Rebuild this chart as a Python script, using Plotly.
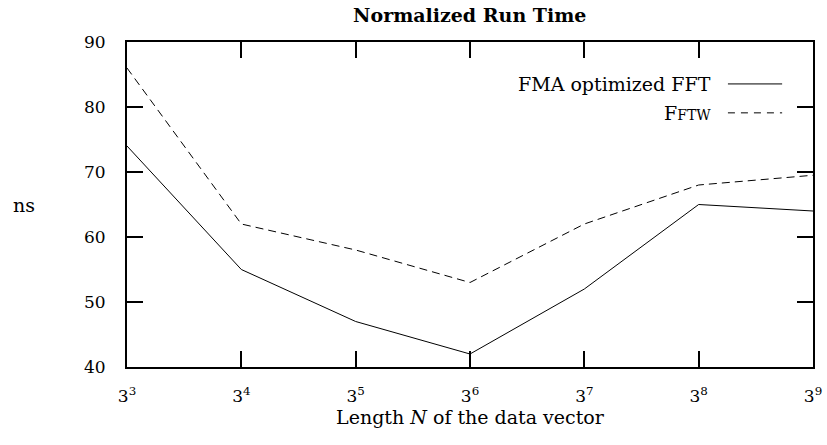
import plotly.graph_objects as go

categories = ["3<sup>3</sup>", "3<sup>4</sup>", "3<sup>5</sup>", "3<sup>6</sup>", "3<sup>7</sup>", "3<sup>8</sup>", "3<sup>9</sup>"]
exponents = [3, 4, 5, 6, 7, 8, 9]
fma_fft = [74, 55, 47, 42, 52, 65, 64]
fftw = [86, 62, 58, 53, 62, 68, 69.5]
y_ticks = [40, 50, 60, 70, 80, 90]

FONT = "DejaVu Serif"
FS_TICK = 17
FS = 19

fig = go.Figure()
fig.add_trace(go.Scatter(x=exponents, y=fma_fft, mode="lines", name="FMA optimized FFT",
                         line=dict(color="black", width=1), showlegend=False))
fig.add_trace(go.Scatter(x=exponents, y=fftw, mode="lines", name="FFTW",
                         line=dict(color="black", width=1, dash="8px,5px"), showlegend=False))

axis_common = dict(showline=True, linecolor="black", linewidth=2, mirror="allticks",
                   ticks="inside", ticklen=16, tickwidth=2, tickcolor="black",
                   showgrid=False, zeroline=False, automargin=False)

fig.update_xaxes(range=[3, 9], tickvals=exponents, ticktext=categories,
                 ticklabelstandoff=13,
                 title=dict(text="Length <i>N</i> of the data vector", standoff=0,
                            font=dict(family=FONT, size=FS, color="black")),
                 tickfont=dict(family=FONT, size=FS_TICK, color="black"), **axis_common)
fig.update_yaxes(range=[40, 90], tickvals=y_ticks, ticklabelstandoff=16,
                 tickfont=dict(family=FONT, size=FS_TICK, color="black"), **axis_common)

# legend drawn to mimic the original (text right-aligned, sample on the right)
legend_items = [("FMA optimized FFT", "solid", 0.871),
                ("F<span style='font-size:14px'>FTW</span>", "7px,6px", 0.782)]
for label, dash, ly in legend_items:
    fig.add_annotation(x=0.854, y=ly, xref="paper", yref="paper", text=label,
                       showarrow=False, xanchor="right", yanchor="middle",
                       font=dict(family=FONT, size=FS, color="black"))
    fig.add_shape(type="line", xref="paper", yref="paper", x0=0.876, x1=0.955, y0=ly, y1=ly,
                  line=dict(color="black", width=1, dash=dash))

fig.add_annotation(x=-0.150, y=0.5, xref="paper", yref="paper", text="ns", showarrow=False,
                   xanchor="center", yanchor="middle", font=dict(family=FONT, size=FS, color="black"))

fig.update_layout(
    width=827, height=445,
    margin=dict(l=127, r=14, t=42, b=78),
    paper_bgcolor="white", plot_bgcolor="white",
    title=dict(text="<b>Normalized Run Time</b>", x=0.568, xanchor="center", y=0.966, yanchor="middle",
               font=dict(family=FONT, size=19, color="black"), automargin=False),
)

fig.write_html("out.html", config={"displayModeBar": False},
               post_script="document.body.style.margin='0';document.body.style.overflow='hidden';")
